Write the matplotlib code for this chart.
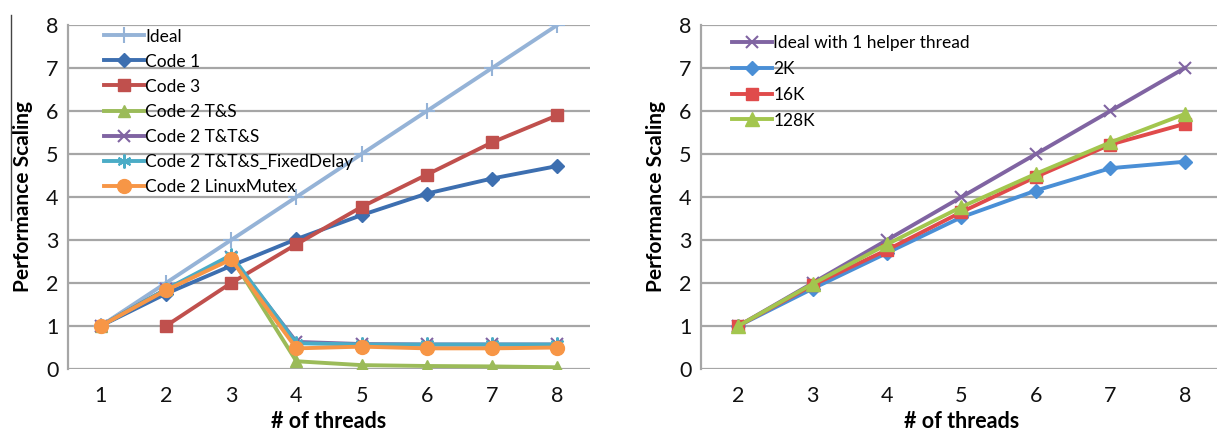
import matplotlib
matplotlib.use("Agg")
import matplotlib.pyplot as plt
import numpy as np
from matplotlib.lines import Line2D

plt.rcParams['font.family'] = ['Lato', 'DejaVu Sans']

# ---- Left panel data ----
threads_left = [1, 2, 3, 4, 5, 6, 7, 8]
ideal = [1, 2, 3, 4, 5, 6, 7, 8]
code1 = [1.0, 1.75, 2.4, 3.02, 3.58, 4.08, 4.43, 4.72]
code3 = [np.nan, 1.0, 2.0, 2.9, 3.77, 4.52, 5.27, 5.9]
code2_ts = [1.0, 1.85, 2.6, 0.18, 0.09, 0.07, 0.06, 0.04]
code2_tts = [1.0, 1.85, 2.6, 0.63, 0.58, 0.57, 0.57, 0.57]
code2_fixed = [1.0, 1.85, 2.65, 0.6, 0.57, 0.57, 0.57, 0.57]
code2_mutex = [1.0, 1.83, 2.55, 0.48, 0.52, 0.48, 0.48, 0.5]
left_labels = ["Ideal", "Code 1", "Code 3", "Code 2 T&S", "Code 2 T&T&S",
               "Code 2 T&T&S_FixedDelay", "Code 2 LinuxMutex"]

# ---- Right panel data ----
threads_right = [2, 3, 4, 5, 6, 7, 8]
ideal_helper = [1, 2, 3, 4, 5, 6, 7]
k2 = [1.0, 1.87, 2.7, 3.53, 4.15, 4.67, 4.82]
k16 = [1.0, 1.95, 2.77, 3.65, 4.47, 5.22, 5.70]
k128 = [1.0, 1.98, 2.9, 3.77, 4.54, 5.27, 5.93]
right_labels = ["Ideal with 1 helper thread", "2K", "16K", "128K"]

W, H = 1217, 430
fig = plt.figure(figsize=(W / 100, H / 100), dpi=100)

def px_axes(x0, x1, y0, y1):
    return fig.add_axes([x0 / W, 1 - y1 / H, (x1 - x0) / W, (y1 - y0) / H])

GRID = '#a6a6a6'
LW = 2.8

def style(ax, xmin, xmax, xticks):
    ax.set_xlim(xmin, xmax)
    ax.set_ylim(0, 8)
    ax.set_yticks(range(0, 9))
    ax.set_xticks(xticks)
    ax.grid(axis='y', color=GRID, linewidth=1.6, zorder=0)
    ax.set_axisbelow(True)
    for s in ['top', 'right', 'bottom']:
        ax.spines[s].set_visible(False)
    ax.spines['left'].set_color(GRID)
    ax.spines['left'].set_linewidth(1.6)
    ax.tick_params(axis='both', length=0, labelsize=15.5, colors='#111111')
    ax.tick_params(axis='y', pad=7)
    ax.tick_params(axis='x', pad=12)
    ax.set_xlabel('# of threads', fontsize=15.5, fontweight='bold', labelpad=4)
    ax.set_ylabel('Performance Scaling', fontsize=15, fontweight='bold', labelpad=9)

# Left axes
ax1 = px_axes(68, 590, 25, 369)
series_left = [
    (ideal, '#95b3d7', '+', 11, 1.5),
    (code1, '#3d6fb0', 'D', 7, 1),
    (code3, '#c0504d', 's', 9, 1),
    (code2_ts, '#9bbb59', '^', 9, 1),
    (code2_tts, '#8064a2', 'x', 9, 1.5),
    (code2_fixed, '#4bacc6', (6, 2, 0), 10, 1.5),
    (code2_mutex, '#f79646', 'o', 10, 1),
]
for (vals, c, m, ms, mew), lab in zip(series_left, left_labels):
    ax1.plot(threads_left, vals, color=c, marker=m, markersize=ms, linewidth=LW,
             markeredgewidth=mew, markeredgecolor=c, label=lab, zorder=3)
style(ax1, 0.5, 8.5, threads_left)
ax1.legend(loc='upper left', bbox_to_anchor=(0.056, 1.01), frameon=False,
           fontsize=12.5, handlelength=2.3, handletextpad=0.05,
           labelspacing=0.52, borderaxespad=0)

# Right axes
ax2 = px_axes(701, 1222, 25, 369)
series_right = [
    (ideal_helper, '#8064a2', 'x', 9, 1.5),
    (k2, '#4a8fd6', 'D', 7, 1),
    (k16, '#e04b4b', 's', 9, 1),
    (k128, '#a3c64e', '^', 10, 1),
]
for (vals, c, m, ms, mew), lab in zip(series_right, right_labels):
    ax2.plot(threads_right, vals, color=c, marker=m, markersize=ms, linewidth=LW,
             markeredgewidth=mew, markeredgecolor=c, label=lab, zorder=3)
style(ax2, 1.5, 8.5, threads_right)
ax2.legend(loc='upper left', bbox_to_anchor=(0.047, 0.99), frameon=False,
           fontsize=12.5, handlelength=2.3, handletextpad=0.05,
           labelspacing=0.56, borderaxespad=0)

# thin vertical rule at the far left (scan artifact in the source)
fig.add_artist(Line2D([11 / W, 11 / W], [1 - 15 / H, 1 - 220 / H],
                      color='#444444', linewidth=1))

fig.savefig('out.png', dpi=100)
